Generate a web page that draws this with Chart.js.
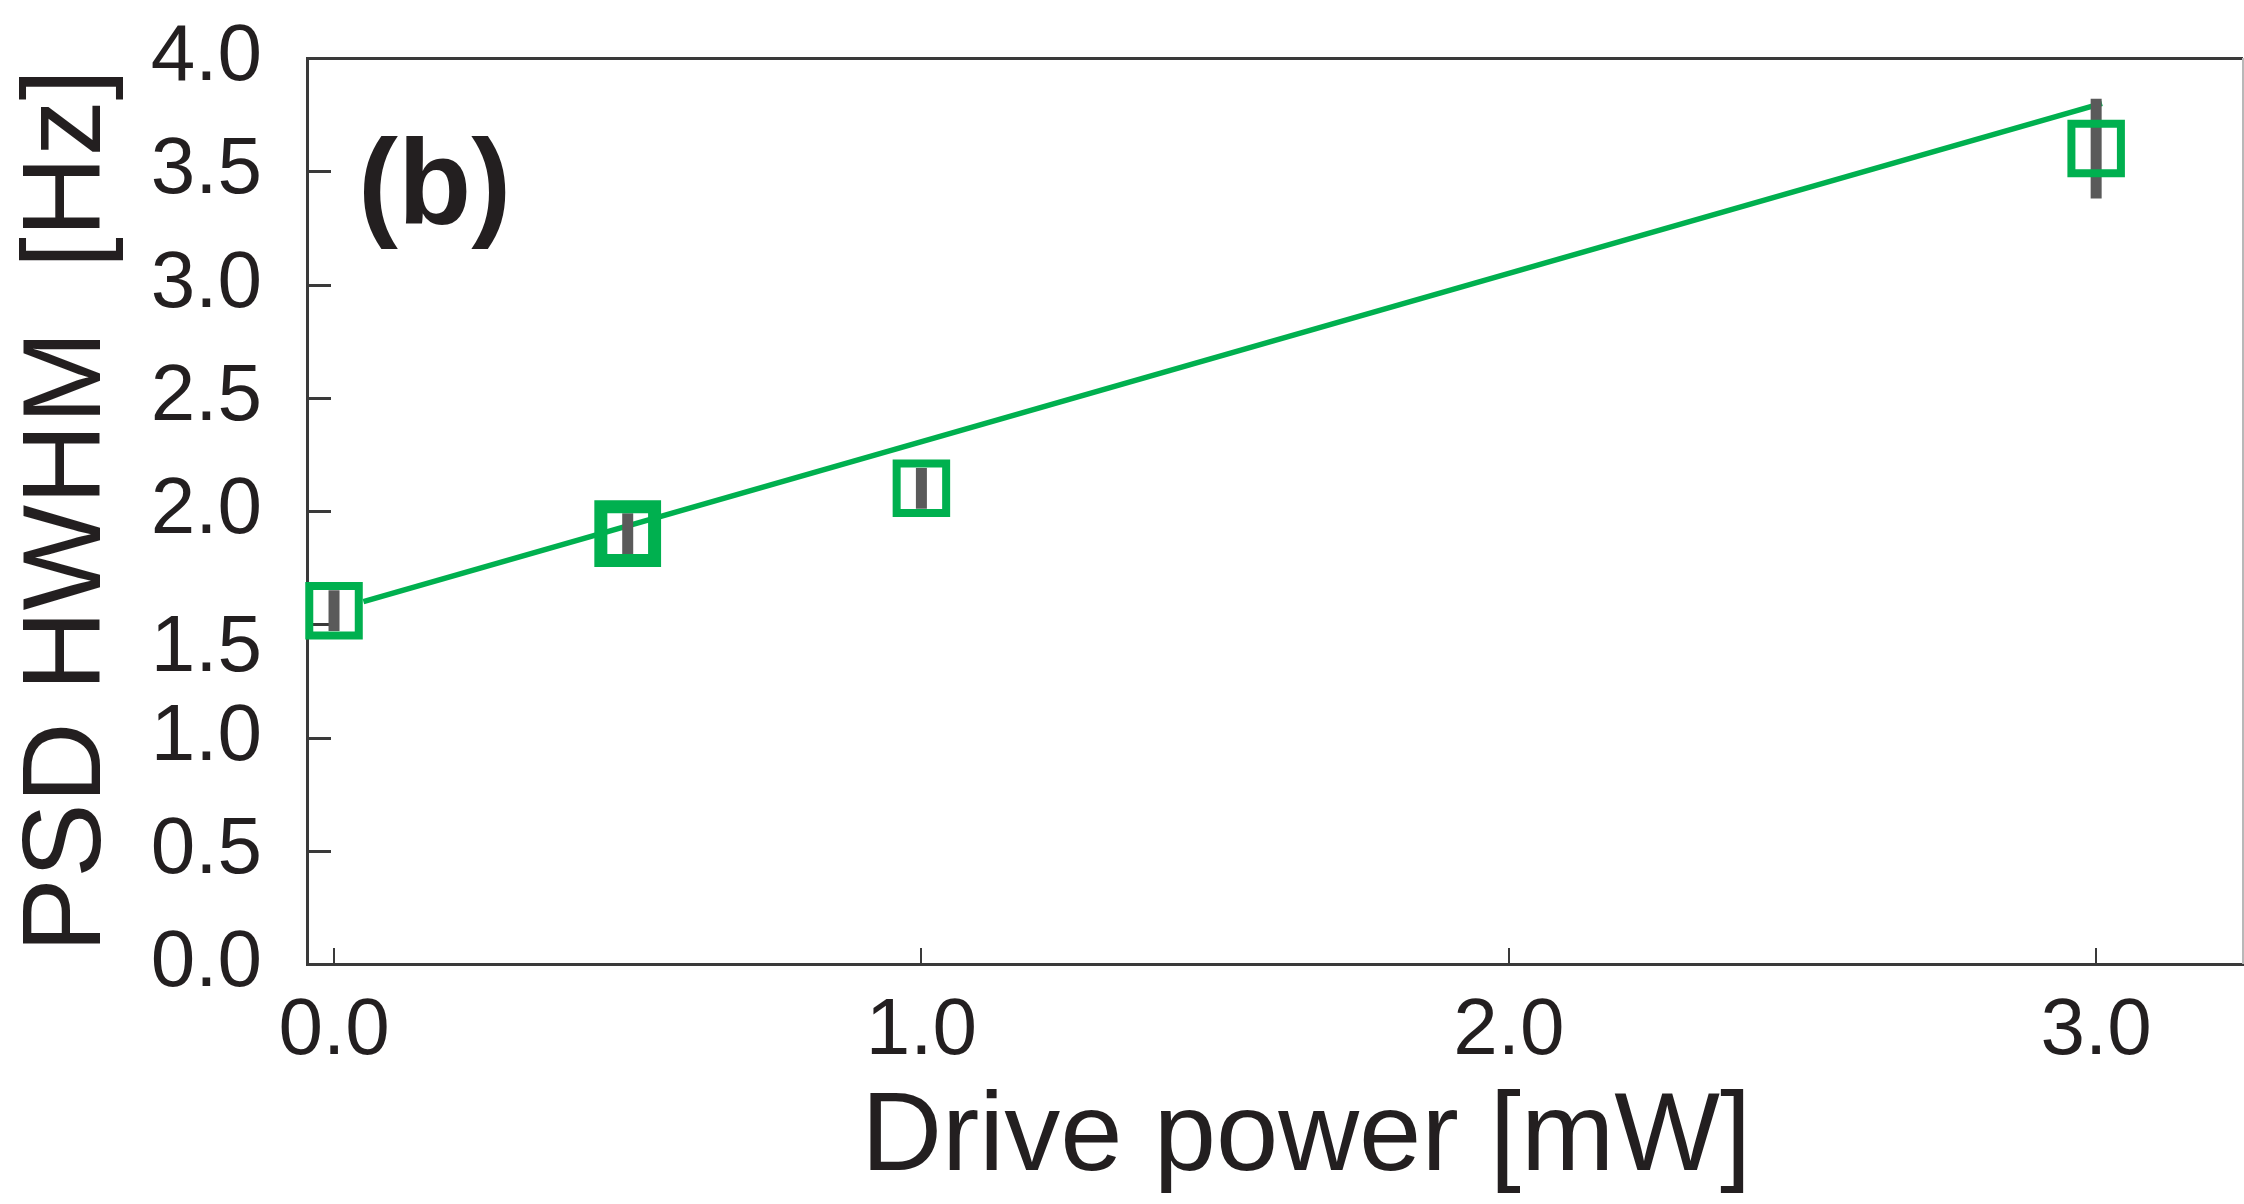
<!DOCTYPE html>
<html>
<head>
<meta charset="utf-8">
<title>PSD HWHM vs drive power</title>
<script src="https://cdn.jsdelivr.net/npm/chart.js@4.4.1/dist/chart.umd.min.js"></script>
<style>
  html, body { margin: 0; padding: 0; background: #ffffff; }
  #wrap { width: 2244px; height: 1204px; }
  canvas { display: block; background: #ffffff; }
</style>
</head>
<body>
<div id="wrap"><canvas id="chart" width="2244" height="1204"></canvas></div>
<script>
// Measured linewidth (half width at half maximum) against drive power
const drivePower = [0.0, 0.5, 1.0, 3.0];      // mW
const hwhm       = [1.56, 1.90, 2.10, 3.60];  // Hz
const hwhmErr    = [0.09, 0.09, 0.09, 0.22];  // Hz, +/- error

// Linear fit, drawn between its two end points
const fitPower = [0.05, 3.01];
const fitHwhm  = [1.60, 3.80];

// Axis ticks
const xTickValues = [0.0, 1.0, 2.0, 3.0];
const yTickValues = [0.0, 0.5, 1.0, 1.5, 2.0, 2.5, 3.0, 3.5, 4.0];

const GREEN = '#00b04f';
const INK = '#231f20';
const AXIS = '#3a3a3a';
const ERRBAR = '#5a5a5a';

// Inward tick marks, frame lines and the panel tag
const framePlugin = {
  id: 'frame',
  beforeDatasetsDraw(chart) {
    const {ctx, chartArea: a, scales: {x, y}} = chart;
    ctx.save();
    ctx.strokeStyle = AXIS;
    ctx.lineCap = 'butt';
    // y ticks pointing into the plot
    ctx.lineWidth = 3;
    yTickValues.forEach(v => {
      if (v <= y.min || v >= y.max) return;
      const py = Math.round(y.getPixelForValue(v)) + 0.5;
      ctx.beginPath();
      ctx.moveTo(a.left, py);
      ctx.lineTo(a.left + 24, py);
      ctx.stroke();
    });
    // x ticks pointing up
    ctx.lineWidth = 2;
    xTickValues.forEach(v => {
      const px = Math.round(x.getPixelForValue(v));
      ctx.beginPath();
      ctx.moveTo(px, a.bottom);
      ctx.lineTo(px, a.bottom - 16);
      ctx.stroke();
    });
    // top frame line
    ctx.lineWidth = 3;
    ctx.beginPath();
    ctx.moveTo(a.left, a.top + 0.5);
    ctx.lineTo(a.right, a.top + 0.5);
    ctx.stroke();
    // right frame line
    ctx.strokeStyle = '#b8b8b8';
    ctx.lineWidth = 2;
    ctx.beginPath();
    ctx.moveTo(a.right, a.top);
    ctx.lineTo(a.right, a.bottom);
    ctx.stroke();
    ctx.restore();
  },
  beforeDatasetDraw(chart, args) {
    // error bars sit under the square markers
    if (args.index !== 0) return;
    const {ctx, scales: {x, y}} = chart;
    ctx.save();
    ctx.strokeStyle = ERRBAR;
    ctx.lineWidth = 11;
    ctx.lineCap = 'butt';
    drivePower.forEach((p, i) => {
      const px = x.getPixelForValue(p);
      ctx.beginPath();
      ctx.moveTo(px, y.getPixelForValue(hwhm[i] - hwhmErr[i]));
      ctx.lineTo(px, y.getPixelForValue(hwhm[i] + hwhmErr[i]));
      ctx.stroke();
    });
    ctx.restore();
  },
  afterDraw(chart) {
    const {ctx} = chart;
    ctx.save();
    ctx.fillStyle = INK;
    ctx.font = 'bold 120px "Liberation Sans", Arial, sans-serif';
    ctx.textAlign = 'left';
    ctx.textBaseline = 'alphabetic';
    ctx.fillText('(b)', 358, 224);
    ctx.restore();
  }
};

new Chart(document.getElementById('chart'), {
  data: {
    datasets: [
      {
        type: 'scatter',
        label: 'PSD HWHM',
        data: drivePower.map((p, i) => ({x: p, y: hwhm[i]})),
        showLine: false,
        pointStyle: 'rect',
        pointRadius: [35, 38, 35, 35],
        pointBorderWidth: [8, 13, 8, 8],
        borderColor: GREEN,
        backgroundColor: 'rgba(0,0,0,0)',
        pointHoverRadius: 0,
        clip: false
      },
      {
        type: 'scatter',
        label: 'Linear fit',
        data: fitPower.map((p, i) => ({x: p, y: fitHwhm[i]})),
        showLine: true,
        borderColor: GREEN,
        borderWidth: 5.5,
        pointRadius: 0,
        fill: false
      }
    ]
  },
  options: {
    responsive: false,
    devicePixelRatio: 1,
    animation: false,
    events: [],
    layout: { autoPadding: false, padding: { top: 58, right: 1, left: 0, bottom: 0 } },
    plugins: {
      legend: { display: false },
      tooltip: { enabled: false }
    },
    scales: {
      x: {
        type: 'linear',
        position: 'bottom',
        min: -0.046,
        max: 3.25,
        afterBuildTicks: s => { s.ticks = xTickValues.map(v => ({value: v})); },
        afterFit: s => { s.height = 240; s.paddingLeft = 0; s.paddingRight = 0; },
        grid: { display: false, drawTicks: false },
        border: { display: true, color: AXIS, width: 3 },
        ticks: {
          padding: 20,
          color: INK,
          font: { family: '"Liberation Sans", Arial, sans-serif', size: 80 },
          callback: v => v.toFixed(1)
        },
        title: {
          display: true,
          text: '  Drive power [mW]',
          color: INK,
          font: { family: '"Liberation Sans", Arial, sans-serif', size: 112, lineHeight: 1 },
          padding: { top: 0, bottom: 9 }
        }
      },
      y: {
        type: 'linear',
        position: 'left',
        min: 0,
        max: 4,
        afterBuildTicks: s => { s.ticks = yTickValues.map(v => ({value: v})); },
        afterFit: s => { s.width = 307; s.paddingTop = 0; s.paddingBottom = 0; },
        grid: { display: false, drawTicks: false },
        border: { display: true, color: AXIS, width: 3 },
        ticks: {
          padding: 45,
          color: INK,
          font: { family: '"Liberation Sans", Arial, sans-serif', size: 80, lineHeight: 0.62 },
          // the 1.5 label sits a little below its tick
          callback: v => (v === 1.5 ? ['', v.toFixed(1)] : v.toFixed(1))
        },
        title: {
          display: true,
          text: 'PSD HWHM  [Hz]',
          color: INK,
          font: { family: '"Liberation Sans", Arial, sans-serif', size: 112, lineHeight: 1 },
          padding: { top: 13, bottom: 0 }
        }
      }
    }
  },
  plugins: [framePlugin]
});
</script>
</body>
</html>
